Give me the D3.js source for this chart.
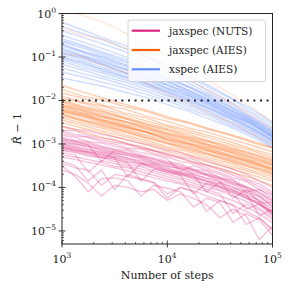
<!DOCTYPE html>
<html>
<head>
<meta charset="utf-8">
<script src="https://cdn.jsdelivr.net/npm/d3@7"></script>
<style>
  body { margin: 0; background: #fff; }
  svg text { font-family: "DejaVu Serif", serif; fill: #222; }
</style>
</head>
<body>
<svg id="chart"></svg>
<script>
// sample positions (number of steps)
const stepsAies = [1000, 1585, 2512, 3981, 6310, 10000, 15849, 25119, 39811, 63096, 100000];
const stepsNuts = [1000, 1334, 1778, 2371, 3162, 4217, 5623, 7499, 10000, 13335, 17783, 23714, 31623, 42170, 56234, 74989, 100000];

// log10(R_hat - 1), one row per chain
const nutsLog = [
  [-2.60,-2.66,-2.70,-2.78,-2.84,-2.90,-2.98,-3.05,-3.14,-3.20,-3.30,-3.38,-3.48,-3.58,-3.70,-3.85,-4.00],
  [-2.68,-2.70,-2.80,-2.86,-2.90,-3.00,-3.05,-3.15,-3.22,-3.30,-3.36,-3.48,-3.56,-3.66,-3.80,-3.92,-4.10],
  [-2.75,-2.82,-2.85,-2.95,-3.00,-3.10,-3.12,-3.22,-3.30,-3.40,-3.45,-3.55,-3.66,-3.78,-3.86,-4.05,-4.18],
  [-2.80,-2.85,-2.95,-2.98,-3.05,-3.12,-3.20,-3.25,-3.35,-3.62,-3.50,-3.60,-3.70,-3.82,-4.10,-4.05,-4.25],
  [-2.85,-2.92,-2.96,-3.05,-3.12,-3.15,-3.25,-3.32,-3.40,-3.46,-3.58,-3.62,-3.78,-3.84,-3.98,-4.12,-4.30],
  [-2.90,-2.95,-3.02,-3.40,-3.15,-3.22,-3.28,-3.35,-3.45,-3.52,-3.60,-3.70,-3.80,-3.90,-4.02,-4.35,-4.35],
  [-2.95,-3.00,-3.08,-3.12,-3.20,-3.28,-3.32,-3.42,-3.50,-3.58,-3.66,-3.72,-3.86,-3.94,-4.10,-4.22,-4.42],
  [-2.98,-3.02,-3.05,-3.15,-3.22,-3.25,-3.35,-3.45,-3.52,-3.56,-3.70,-3.78,-3.85,-4.25,-4.05,-4.20,-4.45],
  [-3.00,-3.06,-3.12,-3.18,-3.24,-3.34,-3.38,-3.46,-3.55,-3.64,-3.70,-3.80,-3.90,-4.00,-4.12,-4.30,-4.48],
  [-3.05,-3.10,-3.18,-3.22,-3.30,-3.36,-3.45,-3.50,-3.60,-3.68,-3.74,-3.85,-3.92,-4.05,-4.18,-4.30,-4.55],
  [-3.06,-3.15,-3.18,-3.25,-3.32,-3.75,-3.45,-3.55,-3.62,-3.68,-3.78,-3.85,-3.98,-4.08,-4.20,-4.40,-4.55],
  [-3.10,-3.15,-3.22,-3.30,-3.34,-3.42,-3.48,-3.56,-3.66,-3.72,-3.80,-3.92,-4.00,-4.10,-4.25,-4.35,-4.60],
  [-3.15,-3.20,-3.28,-3.32,-3.40,-3.48,-3.52,-3.62,-3.70,-3.78,-3.85,-3.94,-4.05,-4.15,-4.50,-4.38,-4.62],
  [-3.20,-3.25,-3.65,-3.38,-3.45,-3.52,-3.58,-3.66,-3.75,-3.82,-3.90,-4.00,-4.08,-4.20,-4.32,-4.48,-4.70],
  [-3.25,-3.30,-3.36,-3.42,-3.52,-3.55,-3.64,-3.72,-3.80,-3.88,-3.95,-4.05,-4.15,-4.60,-4.38,-4.52,-4.75],
  [-3.30,-3.36,-3.42,-3.48,-3.55,-3.62,-3.70,-3.78,-3.85,-3.92,-4.00,-4.10,-4.20,-4.30,-4.45,-4.60,-4.82],
  [-3.40,-3.50,-3.85,-3.60,-4.05,-3.70,-3.80,-3.88,-4.15,-4.00,-4.10,-4.55,-4.30,-4.40,-4.85,-4.70,-5.00],
  [-3.50,-3.75,-4.10,-3.80,-3.78,-3.85,-4.20,-3.95,-4.02,-4.10,-4.45,-4.25,-4.35,-4.80,-4.60,-4.75,-5.10],
  [-2.70,-2.78,-2.84,-2.90,-2.96,-3.02,-3.10,-3.16,-3.25,-3.32,-3.42,-3.50,-3.60,-3.72,-3.84,-3.98,-4.15],
  [-3.02,-3.08,-3.14,-3.20,-3.26,-3.32,-3.42,-3.48,-3.58,-3.65,-3.72,-4.10,-3.88,-4.00,-4.15,-4.65,-4.50],
  [-2.92,-2.98,-3.04,-3.10,-3.18,-3.24,-3.30,-3.40,-3.46,-3.55,-3.62,-3.72,-3.80,-3.92,-4.00,-4.18,-4.36],
  [-3.12,-3.18,-3.25,-3.30,-3.36,-3.44,-3.85,-3.58,-3.65,-3.72,-4.15,-3.90,-4.00,-4.12,-4.25,-4.40,-4.65],
  [-3.60,-3.70,-3.90,-4.20,-3.95,-4.00,-4.10,-4.05,-4.30,-4.15,-4.25,-4.40,-4.70,-4.50,-4.65,-5.20,-4.90],
  [-3.45,-3.55,-3.60,-3.95,-3.70,-3.75,-3.82,-3.90,-4.25,-4.00,-4.08,-4.20,-4.30,-4.42,-4.55,-4.70,-4.95],
  [-2.88,-2.94,-3.00,-3.07,-3.14,-3.20,-3.28,-3.36,-3.43,-3.50,-3.60,-3.68,-3.76,-3.88,-3.98,-4.12,-4.32],
  [-3.08,-3.12,-3.20,-3.26,-3.30,-3.40,-3.44,-3.52,-3.62,-3.70,-3.76,-3.86,-3.96,-4.06,-4.22,-4.36,-4.58]
];

const aiesLog = [
  [-1.75,-1.90,-2.00,-2.14,-2.25,-2.41,-2.52,-2.67,-2.80,-2.96,-3.10],
  [-1.83,-1.95,-2.12,-2.20,-2.36,-2.48,-2.63,-2.74,-2.89,-3.03,-3.18],
  [-1.90,-2.04,-2.14,-2.29,-2.40,-2.57,-2.68,-2.81,-2.95,-3.11,-3.25],
  [-1.95,-2.06,-2.21,-2.33,-2.47,-2.60,-2.73,-2.86,-3.01,-3.15,-3.31],
  [-2.00,-2.13,-2.25,-2.39,-2.52,-2.65,-2.78,-2.93,-3.05,-3.21,-3.35],
  [-2.05,-2.18,-2.31,-2.42,-2.57,-2.70,-2.85,-2.96,-3.11,-3.25,-3.41],
  [-2.09,-2.21,-2.35,-2.48,-2.60,-2.75,-2.86,-3.01,-3.14,-3.29,-3.44],
  [-2.13,-2.25,-2.39,-2.50,-2.65,-2.78,-2.91,-3.04,-3.19,-3.33,-3.49],
  [-2.15,-2.29,-2.40,-2.55,-2.66,-2.81,-2.94,-3.07,-3.20,-3.37,-3.50],
  [-2.19,-2.30,-2.45,-2.57,-2.71,-2.83,-2.98,-3.10,-3.25,-3.39,-3.55],
  [-2.23,-2.36,-2.48,-2.61,-2.74,-2.89,-3.00,-3.15,-3.28,-3.43,-3.58],
  [-2.27,-2.39,-2.53,-2.65,-2.79,-2.92,-3.06,-3.18,-3.33,-3.47,-3.63],
  [-2.31,-2.44,-2.56,-2.69,-2.82,-2.97,-3.08,-3.23,-3.36,-3.51,-3.66],
  [-2.35,-2.48,-2.61,-2.73,-2.87,-3.00,-3.14,-3.26,-3.41,-3.55,-3.71],
  [-2.40,-2.53,-2.65,-2.79,-2.92,-3.06,-3.18,-3.32,-3.45,-3.61,-3.75],
  [-2.45,-2.58,-2.71,-2.83,-2.97,-3.10,-3.24,-3.36,-3.51,-3.65,-3.81],
  [-2.51,-2.64,-2.76,-2.90,-3.02,-3.17,-3.29,-3.43,-3.56,-3.71,-3.86],
  [-2.60,-2.72,-2.86,-2.98,-3.11,-3.25,-3.39,-3.50,-3.65,-3.78,-3.96],
  [-1.65,-1.81,-1.95,-2.09,-2.22,-2.37,-2.50,-2.65,-2.78,-2.93,-3.08],
  [-2.25,-2.34,-2.50,-2.62,-2.72,-2.90,-3.02,-3.16,-3.30,-3.44,-3.60],
  [-2.02,-2.16,-2.27,-2.41,-2.55,-2.67,-2.82,-2.94,-3.09,-3.23,-3.38],
  [-2.33,-2.46,-2.58,-2.71,-2.85,-2.98,-3.11,-3.24,-3.38,-3.53,-3.68],
  [-2.11,-2.23,-2.37,-2.49,-2.62,-2.76,-2.89,-3.03,-3.16,-3.31,-3.46],
  [-2.21,-2.33,-2.46,-2.59,-2.73,-2.86,-2.99,-3.12,-3.27,-3.41,-3.57]
];

// a few AIES chains that start far from convergence
const aiesOutlierLog = [
  [0.10,-0.05,-0.20,-0.45,-0.70,-0.95,-1.25,-1.55,-1.85,-2.15,-2.50],
  [-0.35,-0.50,-0.60,-0.80,-1.00,-1.25,-1.50,-1.80,-2.05,-2.35,-2.65],
  [-0.90,-1.00,-1.20,-1.35,-1.60,-1.85,-2.05,-2.30,-2.50,-2.75,-3.00]
];

const xspecLog = [
  [-0.30,-0.46,-0.62,-0.81,-1.00,-1.23,-1.45,-1.71,-1.95,-2.26,-2.55],
  [-0.40,-0.55,-0.71,-0.88,-1.09,-1.30,-1.53,-1.78,-2.03,-2.30,-2.62],
  [-0.50,-0.66,-0.82,-0.99,-1.17,-1.38,-1.60,-1.84,-2.08,-2.37,-2.66],
  [-0.58,-0.73,-0.90,-1.05,-1.26,-1.45,-1.67,-1.88,-2.13,-2.40,-2.70],
  [-0.65,-0.80,-0.97,-1.12,-1.30,-1.51,-1.70,-1.94,-2.17,-2.44,-2.72],
  [-0.70,-0.87,-1.00,-1.17,-1.35,-1.54,-1.76,-1.97,-2.21,-2.46,-2.76],
  [-0.75,-0.90,-1.07,-1.22,-1.41,-1.58,-1.79,-2.01,-2.23,-2.49,-2.78],
  [-0.80,-0.96,-1.10,-1.27,-1.43,-1.63,-1.82,-2.04,-2.26,-2.51,-2.81],
  [-0.86,-1.00,-1.16,-1.30,-1.48,-1.66,-1.87,-2.06,-2.30,-2.53,-2.82],
  [-0.90,-1.06,-1.20,-1.36,-1.52,-1.71,-1.89,-2.11,-2.32,-2.57,-2.85],
  [-0.95,-1.10,-1.25,-1.39,-1.57,-1.74,-1.94,-2.13,-2.36,-2.59,-2.88],
  [-1.00,-1.16,-1.28,-1.44,-1.60,-1.78,-1.96,-2.17,-2.38,-2.63,-2.90],
  [-1.05,-1.20,-1.34,-1.48,-1.65,-1.82,-2.01,-2.20,-2.42,-2.65,-2.93],
  [-1.10,-1.25,-1.38,-1.53,-1.68,-1.87,-2.04,-2.24,-2.44,-2.69,-2.95],
  [-1.17,-1.30,-1.45,-1.58,-1.74,-1.90,-2.09,-2.27,-2.49,-2.71,-2.99],
  [-1.25,-1.39,-1.50,-1.65,-1.79,-1.96,-2.13,-2.32,-2.52,-2.76,-3.02],
  [-1.35,-1.46,-1.59,-1.71,-1.86,-2.01,-2.19,-2.36,-2.57,-2.78,-3.06],
  [-1.48,-1.58,-1.68,-1.81,-1.93,-2.09,-2.24,-2.43,-2.61,-2.83,-3.08],
  [-0.20,-0.38,-0.57,-0.74,-0.96,-1.18,-1.43,-1.66,-1.93,-2.20,-2.50],
  [-0.92,-1.02,-1.18,-1.36,-1.50,-1.72,-1.90,-2.08,-2.34,-2.54,-2.84],
  [-0.62,-0.76,-0.93,-1.09,-1.27,-1.48,-1.68,-1.91,-2.15,-2.42,-2.71],
  [-1.02,-1.13,-1.31,-1.46,-1.62,-1.80,-1.99,-2.18,-2.40,-2.64,-2.92],
  [-0.83,-0.98,-1.13,-1.28,-1.46,-1.64,-1.84,-2.05,-2.28,-2.52,-2.83],
  [-0.72,-0.88,-1.03,-1.19,-1.38,-1.56,-1.77,-1.99,-2.22,-2.47,-2.77]
];

const seriesNames = ["jaxspec (NUTS)", "jaxspec (AIES)", "xspec (AIES)"];
const seriesColors = ["#dc267f", "#fe6100", "#648fff"];
const xTickExps = [3, 4, 5];
const yTickExps = [0, -1, -2, -3, -4, -5];
const threshold = 1e-2;

const W = 291, H = 291;
const margin = {top: 13.5, right: 18.5, bottom: 47, left: 62};

const svg = d3.select('#chart').attr('width', W).attr('height', H);

const x = d3.scaleLog().domain([1e3, 1e5]).range([margin.left, W - margin.right]);
const y = d3.scaleLog().domain([5e-6, 1]).range([H - margin.bottom, margin.top]);

svg.append('clipPath').attr('id', 'plotclip')
  .append('rect')
    .attr('x', margin.left).attr('y', margin.top)
    .attr('width', W - margin.left - margin.right)
    .attr('height', H - margin.top - margin.bottom);

const line = d3.line().x(d => x(d[0])).y(d => y(d[1]));

const groups = [
  {steps: stepsAies, rows: xspecLog, color: seriesColors[2], op: 0.3},
  {steps: stepsAies, rows: aiesOutlierLog, color: seriesColors[1], op: 0.15},
  {steps: stepsAies, rows: aiesLog, color: seriesColors[1], op: 0.3},
  {steps: stepsNuts, rows: nutsLog, color: seriesColors[0], op: 0.28}
];

const plot = svg.append('g').attr('clip-path', 'url(#plotclip)');

groups.forEach(g => {
  plot.append('g')
    .selectAll('path')
    .data(g.rows.map(r => r.map((v, i) => [g.steps[i], Math.pow(10, v)])))
    .join('path')
      .attr('d', line)
      .attr('fill', 'none')
      .attr('stroke', g.color)
      .attr('stroke-width', 1.4)
      .attr('stroke-opacity', g.op);
});

// threshold line
plot.append('line')
  .attr('x1', x(1e3)).attr('x2', x(1e5))
  .attr('y1', y(threshold)).attr('y2', y(threshold))
  .attr('stroke', '#222').attr('stroke-width', 2)
  .attr('stroke-dasharray', '2,4.6');

// axes
const minorX = [], minorY = [];
for (let e = 3; e < 5; e++) for (let m = 2; m < 10; m++) minorX.push(m * Math.pow(10, e));
for (let e = -6; e < 0; e++) for (let m = 2; m < 10; m++) {
  const v = m * Math.pow(10, e);
  if (v >= 5e-6) minorY.push(v);
}

const axG = svg.append('g').attr('stroke', '#222');
// minor ticks (inward)
axG.selectAll('.mx').data(minorX).join('line')
  .attr('x1', d => x(d)).attr('x2', d => x(d))
  .attr('y1', H - margin.bottom).attr('y2', H - margin.bottom - 2)
  .attr('stroke-width', 0.7);
axG.selectAll('.my').data(minorY).join('line')
  .attr('y1', d => y(d)).attr('y2', d => y(d))
  .attr('x1', margin.left).attr('x2', margin.left + 2)
  .attr('stroke-width', 0.7);
// major ticks (in & out)
axG.selectAll('.Mx').data(xTickExps).join('line')
  .attr('x1', d => x(Math.pow(10, d))).attr('x2', d => x(Math.pow(10, d)))
  .attr('y1', H - margin.bottom + 3.5).attr('y2', H - margin.bottom - 3.5)
  .attr('stroke-width', 0.9);
axG.selectAll('.My').data(yTickExps).join('line')
  .attr('y1', d => y(Math.pow(10, d))).attr('y2', d => y(Math.pow(10, d)))
  .attr('x1', margin.left - 3.5).attr('x2', margin.left + 3.5)
  .attr('stroke-width', 0.9);

// frame
svg.append('rect')
  .attr('x', margin.left).attr('y', margin.top)
  .attr('width', W - margin.left - margin.right)
  .attr('height', H - margin.top - margin.bottom)
  .attr('fill', 'none').attr('stroke', '#222').attr('stroke-width', 1);

// tick labels
const xl = svg.append('g').selectAll('text').data(xTickExps).join('text')
  .attr('x', d => x(Math.pow(10, d))).attr('y', H - margin.bottom + 19)
  .attr('text-anchor', 'middle').attr('font-size', 11);
xl.append('tspan').text('10');
xl.append('tspan').attr('dy', -5).attr('font-size', 7.5).text(d => d);

const yl = svg.append('g').selectAll('text').data(yTickExps).join('text')
  .attr('x', margin.left - 6).attr('y', d => y(Math.pow(10, d)) + 4)
  .attr('text-anchor', 'end').attr('font-size', 11);
yl.append('tspan').text('10');
yl.append('tspan').attr('dy', -5).attr('font-size', 7.5).text(d => d === 0 ? '0' : '\u2212' + Math.abs(d));

// axis titles
svg.append('text')
  .attr('x', (margin.left + W - margin.right) / 2).attr('y', H - 12)
  .attr('text-anchor', 'middle').attr('font-size', 11)
  .text('Number of steps');

const yt = svg.append('text')
  .attr('transform', `translate(21,${(margin.top + H - margin.bottom) / 2}) rotate(-90)`)
  .attr('text-anchor', 'middle').attr('font-size', 11);
yt.append('tspan').attr('font-style', 'italic').text('R\u0302');
yt.append('tspan').text(' \u2212 1');

// legend
const leg = svg.append('g').attr('transform', 'translate(128,20)');
leg.append('rect')
  .attr('width', 137.5).attr('height', 61.5).attr('rx', 2.5)
  .attr('fill', 'white').attr('fill-opacity', 0.8)
  .attr('stroke', '#d0d0d0').attr('stroke-width', 0.9);
seriesNames.forEach((name, i) => {
  const yy = 10.7 + i * 19.3;
  leg.append('line')
    .attr('x1', 3.7).attr('x2', 32).attr('y1', yy).attr('y2', yy)
    .attr('stroke', seriesColors[i]).attr('stroke-width', 2.2);
  leg.append('text')
    .attr('x', 41).attr('y', yy + 3.8)
    .attr('font-size', 10.5)
    .text(name);
});
</script>
</body>
</html>
